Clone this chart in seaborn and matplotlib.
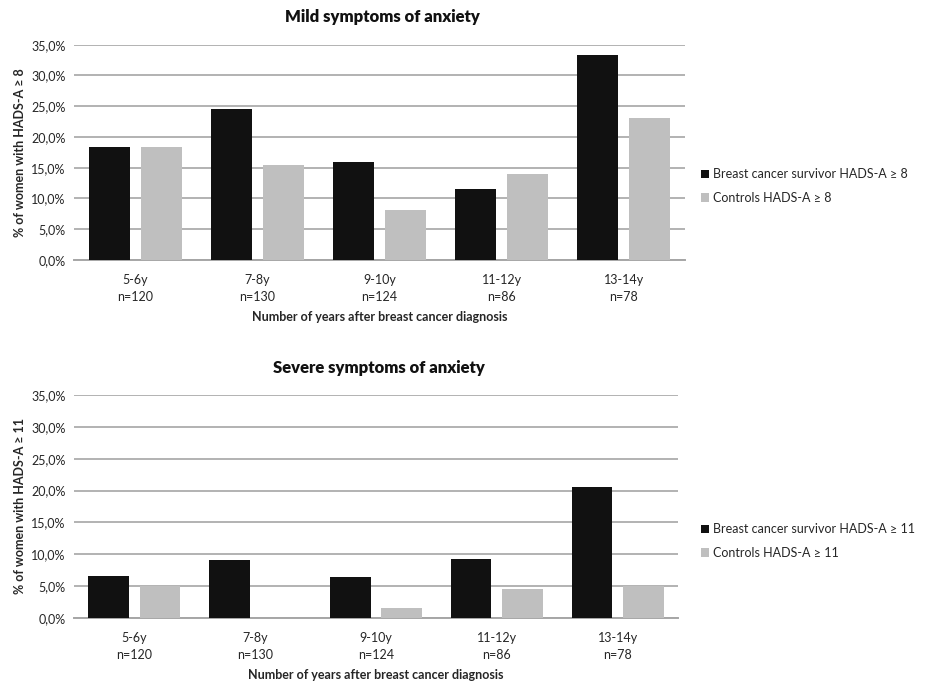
import matplotlib
matplotlib.use("Agg")
import matplotlib.pyplot as plt
from matplotlib.patches import Patch
from matplotlib.ticker import FuncFormatter
import seaborn as sns
import pandas as pd

# Follow-up periods and sample sizes
periods = ["5-6y", "7-8y", "9-10y", "11-12y", "13-14y"]
sample_sizes = [120, 130, 124, 86, 78]

# Percentage of women with HADS-A >= 8 (mild)
mild_survivors = [18.3, 24.6, 16.0, 11.5, 33.3]
mild_controls = [18.3, 15.4, 8.1, 14.0, 23.1]

# Percentage of women with HADS-A >= 11 (severe)
severe_survivors = [6.6, 9.1, 6.4, 9.2, 20.5]
severe_controls = [5.0, 0.0, 1.6, 4.6, 5.0]

y_ticks = [0, 5, 10, 15, 20, 25, 30, 35]

BLACK = "#111111"
GREY = "#bfbfbf"
GRID = "#a6a6a6"
TEXT = "#262626"

sns.set_theme(style="white")
plt.rcParams["font.family"] = ["Lato", "DejaVu Sans"]
plt.rcParams["text.color"] = TEXT

tick_labels = [f"{p}\nn={n}" for p, n in zip(periods, sample_sizes)]


def build_frame(surv, ctrl, surv_label, ctrl_label):
    rows = []
    for lab, s, c in zip(tick_labels, surv, ctrl):
        rows.append({"period": lab, "group": surv_label, "pct": s})
        rows.append({"period": lab, "group": ctrl_label, "pct": c})
    return pd.DataFrame(rows)


def draw_panel(ax, df, labels, title, ylabel, legend_y):
    sns.barplot(data=df, x="period", y="pct", hue="group",
                hue_order=labels, palette=[BLACK, GREY],
                width=0.852, gap=0.21, saturation=1, ax=ax,
                legend=False, linewidth=0, zorder=3)
    ax.set_ylim(0, 35)
    ax.set_yticks(y_ticks)
    ax.yaxis.set_major_formatter(
        FuncFormatter(lambda v, _: f"{v:.1f}%".replace(".", ",")))
    ax.grid(axis="y", color=GRID, linewidth=1.2, zorder=0)
    ax.set_axisbelow(True)
    for side in ["top", "right", "left"]:
        ax.spines[side].set_visible(False)
    ax.spines["bottom"].set_color(GRID)
    ax.spines["bottom"].set_linewidth(1.4)
    ax.tick_params(axis="both", length=0, labelsize=9, colors=TEXT, pad=6)
    ax.tick_params(axis="x", pad=10)
    for t in ax.get_xticklabels():
        t.set_linespacing(1.5)
    ax.set_xlabel("Number of years after breast cancer diagnosis",
                  fontsize=9, fontweight="bold", color=TEXT, labelpad=6)
    ax.set_ylabel(ylabel, fontsize=9, fontweight="bold", color=TEXT,
                  labelpad=4)
    ax.set_title(title, fontsize=12, fontweight="heavy", color="#111111",
                 pad=16, x=0.505)
    handles = [Patch(facecolor=BLACK, edgecolor="none", label=labels[0]),
               Patch(facecolor=GREY, edgecolor="none", label=labels[1])]
    fig.legend(handles=handles, loc="center left",
               bbox_to_anchor=(0.752, legend_y), frameon=False,
               fontsize=9, handlelength=0.7, handleheight=0.7,
               handletextpad=0.3, labelspacing=0.9, borderaxespad=0)


fig = plt.figure(figsize=(9.25, 6.89), dpi=100)

W, H = 925, 689
ax1 = fig.add_axes([74 / W, 1 - 260 / H, (685 - 74) / W, (260 - 44.7) / H])
ax2 = fig.add_axes([74 / W, 1 - 618 / H, (678 - 74) / W, (618 - 395) / H])

mild_labels = ["Breast cancer survivor HADS-A \u2265 8", "Controls HADS-A \u2265 8"]
severe_labels = ["Breast cancer survivor HADS-A \u2265 11", "Controls HADS-A \u2265 11"]

draw_panel(ax1, build_frame(mild_survivors, mild_controls, *mild_labels),
           mild_labels, "Mild symptoms of anxiety",
           "% of women with HADS-A \u2265 8", 1 - 186 / H)
draw_panel(ax2, build_frame(severe_survivors, severe_controls, *severe_labels),
           severe_labels, "Severe symptoms of anxiety",
           "% of women with HADS-A \u2265 11", 1 - 541 / H)

fig.savefig("out.png", dpi=100, facecolor="white")
